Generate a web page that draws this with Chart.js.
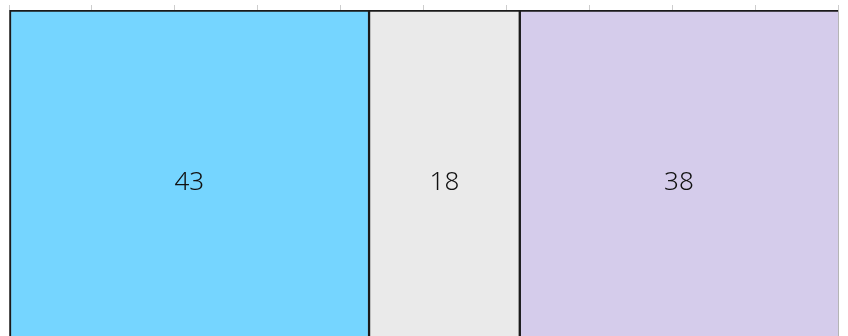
<!DOCTYPE html>
<html>
<head>
<meta charset="utf-8">
<script src="https://cdn.jsdelivr.net/npm/chart.js@4/dist/chart.umd.min.js"></script>
<style>
  html, body { margin: 0; padding: 0; background: #fff; overflow: hidden; }
  .wrap { position: relative; width: 848px; height: 356px; }
</style>
</head>
<body>
<div class="wrap"><canvas id="chart"></canvas></div>
<script>
const categories = [''];
const seriesNames = ['A', 'B', 'C'];
const seriesValues = [[43], [18], [38]];
const seriesColors = ['#75d5ff', '#eaeaea', '#d5cceb'];
const tickMax = 100;
const tickStep = 10;

// totals per category, bars are shown as share of 100
const totals = categories.map((c, i) => seriesValues.reduce((s, v) => s + v[i], 0));

const sideBorders = [
  { top: 2, left: 2, right: 1.5, bottom: 0 },
  { top: 2, left: 1.5, right: 1.5, bottom: 0 },
  { top: 2, left: 1.5, right: 0, bottom: 0 }
];

const valueLabels = {
  id: 'valueLabels',
  afterDatasetsDraw(chart) {
    const ctx = chart.ctx;
    ctx.save();
    ctx.font = '300 26px "Noto Sans", Lato, sans-serif';
    ctx.fillStyle = '#111';
    ctx.textAlign = 'center';
    ctx.textBaseline = 'middle';
    chart.data.datasets.forEach((ds, di) => {
      chart.getDatasetMeta(di).data.forEach((bar, i) => {
        const p = bar.getProps(['x', 'base', 'y'], true);
        ctx.fillText(String(ds.raw[i]), (p.x + p.base) / 2, p.y);
      });
    });
    ctx.restore();
  }
};

new Chart(document.getElementById('chart'), {
  type: 'bar',
  data: {
    labels: categories,
    datasets: seriesNames.map((name, k) => ({
      label: name,
      raw: seriesValues[k],
      data: seriesValues[k].map((v, i) => v / totals[i] * 100),
      backgroundColor: seriesColors[k],
      borderColor: '#1a1a1a',
      borderWidth: sideBorders[k],
      borderSkipped: false,
      barPercentage: 1,
      categoryPercentage: 1
    }))
  },
  options: {
    indexAxis: 'y',
    responsive: true,
    maintainAspectRatio: false,
    animation: false,
    layout: { padding: { top: 5, left: 9, right: 10, bottom: 0 } },
    plugins: { legend: { display: false }, tooltip: { enabled: false } },
    scales: {
      x: {
        position: 'top',
        stacked: true,
        min: 0,
        max: tickMax,
        ticks: { display: false, stepSize: tickStep },
        grid: { color: '#cdcdcd', tickLength: 5, lineWidth: 1 },
        border: { display: false }
      },
      y: {
        stacked: true,
        position: 'right',
        ticks: { display: false },
        grid: { display: false, drawTicks: false },
        border: { color: '#b5b5b5', width: 1 }
      }
    }
  },
  plugins: [valueLabels]
});
</script>
</body>
</html>
